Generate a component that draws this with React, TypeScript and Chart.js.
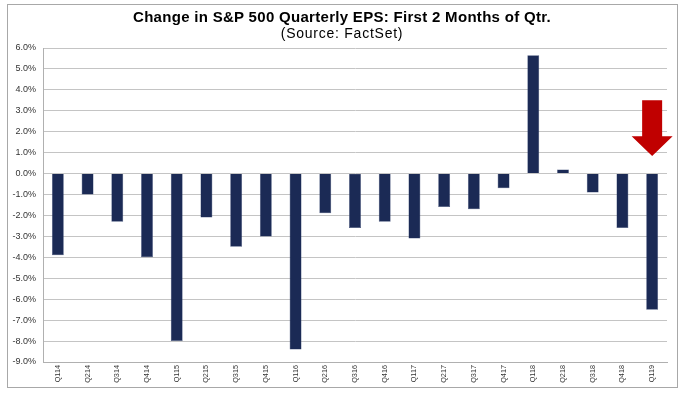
import React, { useEffect, useRef } from "react";
import { Chart, registerables } from "chart.js";

Chart.register(...registerables);

const categories = [
  "Q114", "Q214", "Q314", "Q414", "Q115", "Q215", "Q315", "Q415",
  "Q116", "Q216", "Q316", "Q416", "Q117", "Q217", "Q317", "Q417",
  "Q118", "Q218", "Q318", "Q418", "Q119",
];
const epsChange = [
  -3.9, -1.0, -2.3, -4.0, -8.0, -2.1, -3.5, -3.0,
  -8.4, -1.9, -2.6, -2.3, -3.1, -1.6, -1.7, -0.7,
  5.65, 0.2, -0.9, -2.6, -6.5,
];
const yMin = -9;
const yMax = 6;
const titleText = "Change in S&P 500 Quarterly EPS: First 2 Months of Qtr.";
const subtitleText = "(Source: FactSet)";
// Arrow annotation (category and values in % on the y scale)
const arrowCategory = "Q119";
const arrowTop = 3.5;
const arrowHeadStart = 1.78;
const arrowTip = 0.84;

const FONT = "'Liberation Sans', Arial, sans-serif";

const arrowPlugin = {
  id: "arrowPlugin",
  afterDatasetsDraw(chart: any) {
    const { ctx, scales } = chart;
    const x = scales.x.getPixelForValue(categories.indexOf(arrowCategory));
    const yTop = scales.y.getPixelForValue(arrowTop);
    const yHead = scales.y.getPixelForValue(arrowHeadStart);
    const yTip = scales.y.getPixelForValue(arrowTip);
    const shaft = 10;
    const head = 20.5;
    ctx.save();
    ctx.fillStyle = "#C00000";
    ctx.beginPath();
    ctx.moveTo(x - shaft, yTop);
    ctx.lineTo(x + shaft, yTop);
    ctx.lineTo(x + shaft, yHead);
    ctx.lineTo(x + head, yHead);
    ctx.lineTo(x, yTip);
    ctx.lineTo(x - head, yHead);
    ctx.lineTo(x - shaft, yHead);
    ctx.closePath();
    ctx.fill();
    ctx.restore();
  },
};

export default function App() {
  const ref = useRef<HTMLCanvasElement | null>(null);
  useEffect(() => {
    if (!ref.current) return;
    const chart = new Chart(ref.current, {
      type: "bar",
      data: {
        labels: categories,
        datasets: [
          {
            data: epsChange,
            backgroundColor: "#1B2A55",
            borderColor: "#3A4A75",
            borderWidth: 0.5,
            categoryPercentage: 1,
            barPercentage: 0.4,
          },
        ],
      },
      options: {
        responsive: false,
        animation: false,
        layout: { padding: { left: 0, right: 21, top: 48, bottom: 0 } },
        plugins: {
          legend: { display: false },
          tooltip: { enabled: false },
          title: { display: false },
        },
        scales: {
          x: {
            grid: { display: false, drawTicks: false },
            border: { display: true, color: "#b0b0b0" },
            ticks: {
              autoSkip: false,
              maxRotation: 90,
              minRotation: 90,
              color: "#333",
              padding: 3,
              font: { family: FONT, size: 7.3 },
            },
            afterFit(scale: any) {
              scale.height = 35;
            },
          },
          y: {
            min: yMin,
            max: yMax,
            grid: { color: "#c4c4c4", lineWidth: 1, drawTicks: false },
            border: { display: true, color: "#b0b0b0" },
            ticks: {
              stepSize: 1,
              color: "#333",
              padding: 7,
              font: { family: FONT, size: 9 },
              callback: (v: any) => Number(v).toFixed(1) + "%",
            },
            afterFit(scale: any) {
              scale.width = 43;
            },
          },
        },
      },
      plugins: [arrowPlugin],
    });
    return () => chart.destroy();
  }, []);

  return (
    <div style={{ position: "absolute", left: 0, top: 0, width: 688, height: 397, background: "#fff" }}>
      <div
        style={{
          position: "absolute",
          left: 7,
          top: 4,
          width: 669,
          height: 382,
          border: "1px solid #a8a8a8",
        }}
      />
      <canvas ref={ref} width={688} height={397} style={{ position: "absolute", left: 0, top: 0 }} />
      <div
        style={{
          position: "absolute",
          left: 7,
          top: 8,
          width: 670,
          textAlign: "center",
          fontFamily: FONT,
          fontWeight: "bold",
          fontSize: 15,
          lineHeight: "17px",
          letterSpacing: "0.3px",
          color: "#000",
          whiteSpace: "nowrap",
        }}
      >
        {titleText}
      </div>
      <div
        style={{
          position: "absolute",
          left: 7,
          top: 25,
          width: 670,
          textAlign: "center",
          fontFamily: FONT,
          fontSize: 14,
          lineHeight: "16px",
          letterSpacing: "0.75px",
          color: "#000",
          whiteSpace: "nowrap",
        }}
      >
        {subtitleText}
      </div>
    </div>
  );
}
